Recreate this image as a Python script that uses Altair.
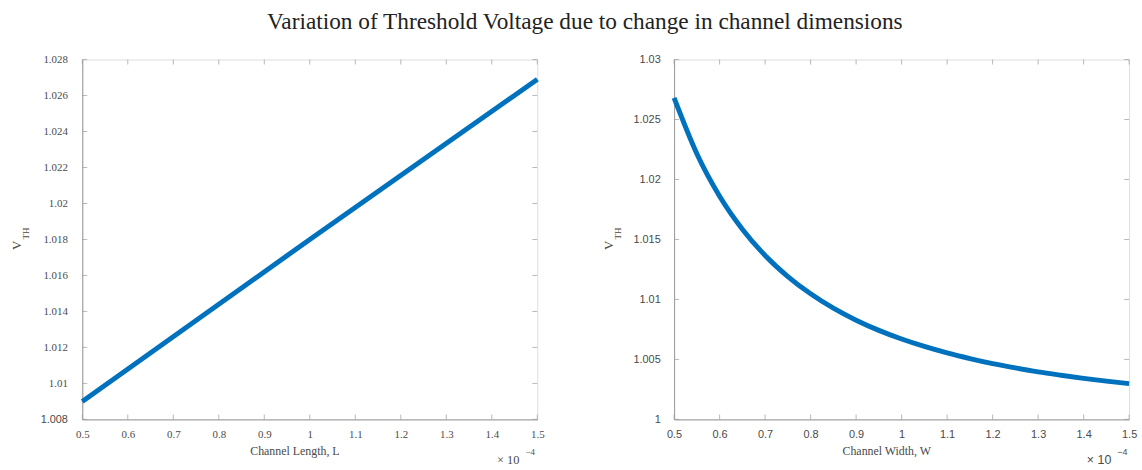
import altair as alt
import pandas as pd

TITLE = "Variation of Threshold Voltage due to change in channel dimensions"

# Left panel: V_TH vs channel length (x in units of 1e-4)
L_x = [0.5, 1.0, 1.5]
L_vth = [1.009, 1.018, 1.0269]
L_xticks = [0.5, 0.6, 0.7, 0.8, 0.9, 1.0, 1.1, 1.2, 1.3, 1.4, 1.5]
L_yticks = [1.008, 1.010, 1.012, 1.014, 1.016, 1.018, 1.020, 1.022, 1.024, 1.026, 1.028]
L_ydomain = [1.008, 1.028]

# Right panel: V_TH vs channel width (x in units of 1e-4)
W_x = [0.5, 0.55, 0.6, 0.65, 0.7, 0.75, 0.8, 0.85, 0.9, 0.95, 1.0,
       1.05, 1.1, 1.15, 1.2, 1.25, 1.3, 1.35, 1.4, 1.45, 1.5]
W_vth = [1.02680, 1.02215, 1.01861, 1.01586, 1.01367, 1.01191, 1.01047, 1.00927, 1.00827,
         1.00742, 1.00670, 1.00608, 1.00554, 1.00507, 1.00465, 1.00429, 1.00396, 1.00368,
         1.00342, 1.00319, 1.00298]
W_xticks = [0.5, 0.6, 0.7, 0.8, 0.9, 1.0, 1.1, 1.2, 1.3, 1.4, 1.5]
W_yticks = [1.0, 1.005, 1.01, 1.015, 1.02, 1.025, 1.03]
W_ydomain = [1.0, 1.03]

XDOMAIN = [0.5, 1.5]

PW, PH = 459, 363
BLUE = "#0072BD"
AXC = "#9a9a9a"
LBL = "#4a4a4a"
SERIF = "Liberation Serif"
SANS = "Liberation Sans"


def text_layer(txt, x, y, font, size, align="center", baseline="middle", angle=0):
    return alt.Chart(pd.DataFrame({"t": [txt]})).mark_text(
        font=font, fontSize=size, color=LBL, align=align, baseline=baseline, angle=angle
    ).encode(text="t:N", x=alt.value(x), y=alt.value(y))


def panel(xs, ys, xticks, yticks, ydomain, xtitle, xlabel_font, ylabel_font, ylab_pad, sans_mult):
    xscale = alt.Scale(domain=XDOMAIN, nice=False, zero=False)
    yscale = alt.Scale(domain=ydomain, nice=False, zero=False)
    xaxis = alt.Axis(
        values=xticks, tickSize=0, labelPadding=9, title=None, grid=False,
        domainColor=AXC, labelFont=xlabel_font, labelFontSize=11, labelColor=LBL,
        format="~g", labelFlush=False)
    yaxis = alt.Axis(
        values=yticks, tickSize=0, labelPadding=ylab_pad, title=None, grid=False,
        domainColor=AXC, labelFont=ylabel_font, labelFontSize=11, labelColor=LBL,
        format="~g", labelFlush=False)
    df = pd.DataFrame({"x": xs, "y": ys})
    line = alt.Chart(df).mark_line(color=BLUE, strokeWidth=5, interpolate="monotone").encode(
        x=alt.X("x:Q", scale=xscale, axis=xaxis),
        y=alt.Y("y:Q", scale=yscale, axis=yaxis),
    )
    xt = pd.DataFrame({"x": xticks})
    yt = pd.DataFrame({"y": yticks})
    xtick_bottom = alt.Chart(xt).mark_tick(color=AXC, size=5, thickness=1).encode(
        x=alt.X("x:Q", scale=xscale, axis=xaxis), y=alt.value(PH - 2.5))
    xtick_top = alt.Chart(xt).mark_tick(color=AXC, size=5, thickness=1).encode(
        x=alt.X("x:Q", scale=xscale, axis=xaxis), y=alt.value(2.5))
    ytick_left = alt.Chart(yt).mark_tick(color=AXC, size=5, thickness=1).encode(
        y=alt.Y("y:Q", scale=yscale, axis=yaxis), x=alt.value(2.5))
    ytick_right = alt.Chart(yt).mark_tick(color=AXC, size=5, thickness=1).encode(
        y=alt.Y("y:Q", scale=yscale, axis=yaxis), x=alt.value(PW - 2.5))

    ytitle_v = text_layer("V", -66, PH / 2 + 6, SERIF, 13, angle=270)
    ytitle_th = text_layer("TH", -57, PH / 2 - 6, SERIF, 9, angle=270)
    xt_title = text_layer(xtitle, PW / 2 - 15, PH + 32, SERIF, 12)
    mult_font = SANS if sans_mult else SERIF
    mult10 = text_layer("\u00d7 10", PW - 18, PH + 41, mult_font, 12.5, align="right")
    mult_exp = text_layer("\u22124", PW - 12, PH + 33, mult_font, 9, align="left")

    return alt.layer(
        line, xtick_bottom, xtick_top, ytick_left, ytick_right,
        ytitle_v, ytitle_th, xt_title, mult10, mult_exp
    ).properties(width=PW, height=PH)


left_ylabel_font = alt.condition("datum.value < 1.0085", alt.value(SANS), alt.value(SERIF))
left = panel(L_x, L_vth, L_xticks, L_yticks, L_ydomain, "Channel Length, L",
             SERIF, left_ylabel_font, 15, False)
right = panel(W_x, W_vth, W_xticks, W_yticks, W_ydomain, "Channel Width, W",
              SANS, SANS, 14, True)

chart = alt.hconcat(left, right, spacing=138, bounds="flush").properties(
    title=alt.TitleParams(TITLE, font=SERIF, fontSize=23.5, fontWeight="normal",
                          color="#222222", anchor="middle", offset=20, dx=10),
    padding={"left": 10, "top": 8, "right": 2, "bottom": 2},
).configure_view(stroke=AXC, strokeWidth=1).configure_title(
    font=SERIF, fontWeight="normal"
).configure(background="white")

chart.save("out.html", embed_options={"renderer": "svg", "actions": False})
